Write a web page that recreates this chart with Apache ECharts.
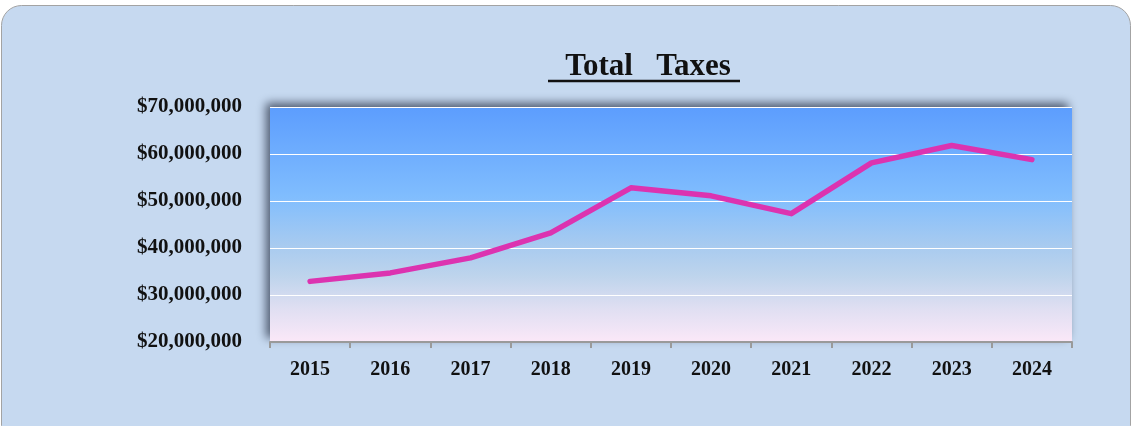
<!DOCTYPE html>
<html>
<head>
<meta charset="utf-8">
<script src="https://cdn.jsdelivr.net/npm/echarts@6/dist/echarts.min.js"></script>
<style>
html,body{margin:0;padding:0;background:#ffffff;}
#chart{width:1132px;height:426px;}
</style>
</head>
<body>
<div id="chart"></div>
<script>
const categories = ['2015','2016','2017','2018','2019','2020','2021','2022','2023','2024'];
const totalTaxes = [32900000, 34700000, 37900000, 43200000, 52800000, 51100000, 47300000, 58100000, 61800000, 58800000];
const yTicks = { min: 20000000, max: 70000000, interval: 10000000 };
const titleText = 'Total   Taxes';

const chart = echarts.init(document.getElementById('chart'));
const LABEL_FONT = '"Liberation Serif", serif';

function money(v){
  return '$' + String(Math.round(v)).replace(/\B(?=(\d{3})+(?!\d))/g, ',');
}

chart.setOption({
  animation: false,
  backgroundColor: 'transparent',
  graphic: [
    {
      type: 'rect', z: -10, silent: true,
      shape: { x: 1.5, y: 5.5, width: 1129, height: 440, r: 20 },
      style: { fill: '#c6d9f0', stroke: '#a3a3a3', lineWidth: 1 }
    },
    {
      type: 'line', silent: true,
      shape: { x1: 548, y1: 81, x2: 740, y2: 81 },
      style: { stroke: '#111', lineWidth: 2.5 }
    },
    {
      type: 'text', silent: true,
      x: 648, y: 51,
      style: {
        text: titleText, textAlign: 'center', textVerticalAlign: 'top',
        font: 'bold 31px "Liberation Serif", serif', fill: '#111'
      }
    }
  ],
  grid: {
    left: 270, right: 60, top: 107, height: 235,
    show: true, borderWidth: 0,
    backgroundColor: {
      type: 'linear', x: 0, y: 0, x2: 0, y2: 1,
      colorStops: [
        { offset: 0, color: '#5c9dfe' },
        { offset: 0.38, color: '#80bdfe' },
        { offset: 0.58, color: '#a6caf0' },
        { offset: 0.72, color: '#bed4ec' },
        { offset: 0.86, color: '#e0dff2' },
        { offset: 1, color: '#fbe8f8' }
      ]
    },
    shadowBlur: 9, shadowColor: 'rgba(40,50,70,0.75)', shadowOffsetX: -4, shadowOffsetY: -4
  },
  xAxis: {
    type: 'category',
    data: categories,
    boundaryGap: true,
    axisLine: { lineStyle: { color: '#9a9a9a', width: 2 } },
    axisTick: { show: true, length: 6, lineStyle: { color: '#9a9a9a', width: 2 } },
    axisLabel: { margin: 18, fontFamily: LABEL_FONT, fontWeight: 'bold', fontSize: 20, color: '#111' },
    splitLine: { show: false }
  },
  yAxis: {
    type: 'value',
    min: yTicks.min, max: yTicks.max, interval: yTicks.interval,
    axisLine: { show: false },
    axisTick: { show: false },
    axisLabel: { margin: 28, fontFamily: LABEL_FONT, fontWeight: 'bold', fontSize: 21, color: '#111', formatter: money },
    splitLine: { lineStyle: { color: '#ffffff', width: 1.2 } }
  },
  series: [{
    type: 'line',
    data: totalTaxes,
    showSymbol: false,
    symbol: 'none',
    lineStyle: { color: '#dc33b0', width: 5.5, cap: 'round', join: 'round' },
    z: 5
  }]
});
</script>
</body>
</html>
